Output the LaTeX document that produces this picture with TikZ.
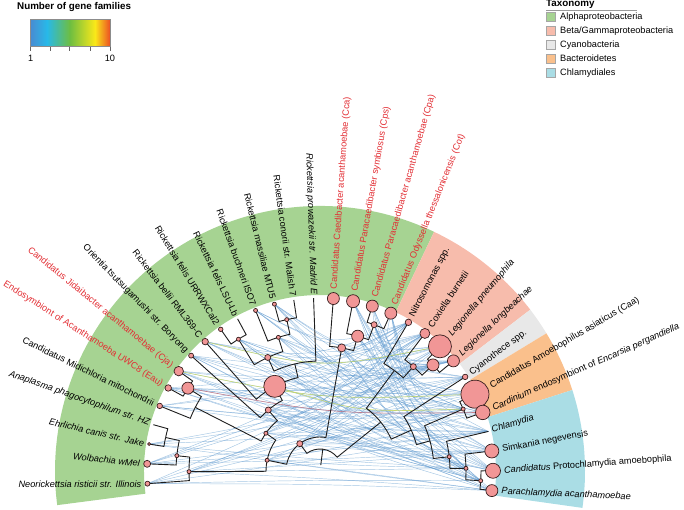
\documentclass[tikz,border=0pt]{standalone}
\usepackage{fontspec}
\setmainfont{Liberation Sans}
\usetikzlibrary{calc}
\definecolor{cAlpha}{RGB}{166,211,146}
\definecolor{cBeta}{RGB}{247,188,172}
\definecolor{cCyan}{RGB}{232,232,232}
\definecolor{cBact}{RGB}{250,192,140}
\definecolor{cChla}{RGB}{170,221,229}
\definecolor{redtxt}{RGB}{226,46,52}
\definecolor{nodeF}{RGB}{241,150,150}
\definecolor{nodeD}{RGB}{55,30,30}
\definecolor{hgtblue}{RGB}{90,150,205}
\definecolor{hgtyel}{RGB}{205,220,90}
\definecolor{hgtred}{RGB}{205,110,120}
\definecolor{treeC}{RGB}{30,30,30}
\definecolor{gradA}{RGB}{72,140,210}
\definecolor{gradB}{RGB}{40,185,232}
\definecolor{gradC}{RGB}{110,190,65}
\definecolor{gradD}{RGB}{250,232,25}
\definecolor{gradE}{RGB}{236,80,35}

\newcommand\tn[3]{%
  \expandafter\xdef\csname TA#1\endcsname{#2}%
  \expandafter\xdef\csname TR#1\endcsname{#3}%
  \coordinate (#1) at (#2:#3);}
\newcommand\tb[2]{%
  \draw[branch] (#1) -- (\csname TA#1\endcsname:\csname TR#2\endcsname)
    arc[start angle=\csname TA#1\endcsname, end angle=\csname TA#2\endcsname, radius=\csname TR#2\endcsname];}
\newcommand\leafnode[5]{%
  \pgfmathsetmacro\la{184.2-6.576*#2}%
  \tn{#1}{\la}{173}%
  \pgfmathsetmacro\lr{175.5+#3}%
  \pgfmathsetmacro\off{4*min(1,abs(\la-90)/40)}%
  \ifdim\la pt>90pt
    \pgfmathsetmacro\lrot{\la-180-\off}%
    \node[lab,text=#5,anchor=east,rotate=\lrot] (L#1) at (\la:\lr) {#4};
  \else
    \pgfmathsetmacro\lrot{\la+\off}%
    \node[lab,text=#5,anchor=west,rotate=\lrot] (L#1) at (\la:\lr) {#4};
  \fi}
\newcommand\band[3]{\fill[#1] (#2:176) arc[start angle=#2,end angle=#3,radius=176] -- (#3:265) arc[start angle=#3,end angle=#2,radius=265] -- cycle;}
\newcommand\cn[2]{\node[nc,minimum size=#2] (c#1) at (#1) {};}

\begin{document}
\begin{tikzpicture}[x=1pt,y=1pt,
  lab/.style={font=\fontsize{9.2}{11}\selectfont,inner sep=1pt},
  branch/.style={draw=treeC,line width=0.9pt},
  nc/.style={circle,draw=nodeD,fill=nodeF,line width=0.7pt,inner sep=0pt},
  hgt/.style={draw=hgtblue,line width=0.45pt,opacity=0.55},
  legtxt/.style={font=\fontsize{9.2}{11}\selectfont,anchor=west,inner sep=0pt},
  swatch/.style={draw=black!35,line width=0.5pt,minimum size=9pt,inner sep=0pt}]
\useasboundingbox (-320,-38) rectangle (364,471);

% taxonomy bands
\band{cAlpha}{187.4}{64.5}
\band{cBeta}{64.5}{37.5}
\band{cCyan}{37.5}{31.3}
\band{cBact}{31.3}{17.8}
\band{cChla}{17.8}{-8}

% leaves and labels
\leafnode{Neo}{0}{2.5}{\textit{Neorickettsia risticii str. Illinois}}{black}
\leafnode{Wol}{1}{3.5}{\textit{Wolbachia wMel}}{black}
\leafnode{Ehr}{2}{1.5}{\textit{Ehrlichia canis str. Jake}}{black}
\leafnode{Ana}{3}{0}{\textit{Anaplasma phagocytophilum str. HZ}}{black}
\leafnode{Mid}{4}{2.8}{Candidatus Midichloria mitochondrii}{black}
\leafnode{Eau}{5}{3.3}{Endosymbiont of Acanthamoeba UWC8 (Eau)}{redtxt}
\leafnode{Cja}{6}{4.8}{Candidatus Jidaibacter acanthamoebae (Cja)}{redtxt}
\leafnode{Ori}{7}{2.5}{Orientia tsutsugamushi str. Boryong}{black}
\leafnode{Rbe}{8}{3.3}{Rickettsia bellii RML369-C}{black}
\leafnode{Rfu}{9}{2.3}{Rickettsia felis URRWXCal2}{black}
\leafnode{Rfl}{10}{0}{Rickettsia felis LSU-Lb}{black}
\leafnode{Rbu}{11}{2}{Rickettsia buchneri ISO7}{black}
\leafnode{Rma}{12}{2}{Rickettsia massiliae MTU5}{black}
\leafnode{Rco}{13}{0}{Rickettsia conorii str. Malish 7}{black}
\leafnode{Rpr}{14}{0}{\textit{Rickettsia prowazekii str. Madrid E}}{black}
\leafnode{Cca}{15}{6}{Candidatus Caedibacter acanthamoebae (Cca)}{redtxt}
\leafnode{Cps}{16}{6.5}{Candidatus Paracaedibacter symbiosus (Cps)}{redtxt}
\leafnode{Cpa}{17}{6}{Candidatus Paracaedibacter acanthamoebae (Cpa)}{redtxt}
\leafnode{Cot}{18}{6}{Candidatus Odyssella thessalonicensis (Cot)}{redtxt}
\leafnode{Nit}{19}{3.3}{Nitrosomonas spp.}{black}
\leafnode{Cox}{20}{5}{Coxiella burnetii}{black}
\leafnode{Lpn}{21}{11.5}{\textit{Legionella pneumophila}}{black}
\leafnode{Llo}{22}{6}{\textit{Legionella longbeachae}}{black}
\leafnode{Cya}{23}{2.8}{Cyanothece spp.}{black}
\leafnode{Caa}{24}{14}{Candidatus Amoebophilus asiaticus (Caa)}{black}
\leafnode{Car}{25}{7.3}{\textit{Cardinium} endosymbiont of \textit{Encarsia pergandiella}}{black}
\leafnode{Chl}{26}{0}{\textit{Chlamydia}}{black}
\leafnode{Sim}{27}{7}{Simkania negevensis}{black}
\leafnode{Pro}{28}{7.5}{\textit{Candidatus} Protochlamydia amoebophila}{black}
\leafnode{Par}{29}{6}{\textit{Parachlamydia acanthamoebae}}{black}

% internal nodes
\tn{A2}{167.76}{158}
\tn{A1}{173.9}{144}
\tn{A0}{180.3}{131}
\tn{M1}{147.9}{156}
\tn{M0}{152.97}{140}
\tn{RF}{121.75}{155}
\tn{RS1}{102.4}{155}
\tn{RS2}{107.3}{140}
\tn{RT}{114.7}{125}
\tn{RR}{103.24}{110}
\tn{RB}{118.1}{96}
\tn{RO}{130.3}{80}
\tn{MR}{145.1}{66}
\tn{RK}{168.5}{54}
\tn{H1}{69.7}{156}
\tn{H2}{74.4}{140}
\tn{H3}{80}{125}
\tn{AL}{126.5}{34}
\tn{L}{43.2}{155}
\tn{CL}{48.2}{140}
\tn{BG}{53.5}{125}
\tn{BA}{23.4}{156}
\tn{CH3}{-3.45}{161}
\tn{CH2}{1.06}{146}
\tn{CH1}{6.3}{130}
\tn{BC}{15.3}{114}
\tn{CY}{24.1}{100}
\tn{NA}{38.8}{78}
\tn{Root}{82.7}{22}
\tn{RootB}{82.7}{6}

% gene-transfer links
\foreach \s [count=\i] in {Neo,Wol,Ehr,A1,A0,Mid,Eau,Cja,M1,Ori,Rbe,RB,Rfu,RF,Rbu,RS2,Rma,RT,RO,MR,RK,Cca,Cps,Cpa,Cot,H1,H2,H3,AL}{
  \foreach \t [count=\j] in {Nit,Cox,Lpn,Llo,L,CL,Cya,Caa,Car,BA,Chl,Sim,Pro,Par,CH1,CH2,CH3}{
    \pgfmathtruncatemacro\k{mod(\i*\i*3+\j*7+\i*\j*5,9)}
    \ifnum\k<3 \draw[hgt] (\s) .. controls ($(\s)!0.5!(\t)!0.2!(0,0)$) .. (\t);\fi
  }}
\draw[draw=hgtyel,line width=0.6pt,opacity=0.8] (Cja) .. controls ($(Cja)!0.5!(Caa)!0.2!(0,0)$) .. (Caa);
\draw[draw=hgtyel,line width=0.6pt,opacity=0.8] (Rbe) .. controls ($(Rbe)!0.5!(Lpn)!0.2!(0,0)$) .. (Lpn);
\draw[draw=hgtyel,line width=0.6pt,opacity=0.8] (RB) .. controls ($(RB)!0.5!(BA)!0.2!(0,0)$) .. (BA);
\draw[draw=hgtred,line width=0.6pt,opacity=0.8] (M1) .. controls ($(M1)!0.5!(Car)!0.2!(0,0)$) .. (Car);

% tree
\tb{Neo}{A0} \tb{Wol}{A1} \tb{Ehr}{A2} \tb{Ana}{A2} \tb{A2}{A1} \tb{A1}{A0} \tb{A0}{RK}
\tb{Mid}{M0} \tb{Eau}{M1} \tb{Cja}{M1} \tb{M1}{M0} \tb{M0}{MR}
\tb{Ori}{RO} \tb{Rbe}{RB} \tb{Rfu}{RF} \tb{Rfl}{RF} \tb{RF}{RT}
\tb{Rbu}{RS2} \tb{Rma}{RS1} \tb{Rco}{RS1} \tb{RS1}{RS2} \tb{RS2}{RT}
\tb{RT}{RR} \tb{Rpr}{RR} \tb{RR}{RB} \tb{RB}{RO} \tb{RO}{MR} \tb{MR}{RK} \tb{RK}{AL}
\tb{Cca}{H3} \tb{Cps}{H2} \tb{Cpa}{H1} \tb{Cot}{H1} \tb{H1}{H2} \tb{H2}{H3} \tb{H3}{AL}
\tb{AL}{Root}
\tb{Nit}{BG} \tb{Cox}{CL} \tb{Lpn}{L} \tb{Llo}{L} \tb{L}{CL} \tb{CL}{BG} \tb{BG}{NA}
\tb{Cya}{CY} \tb{Caa}{BA} \tb{Car}{BA} \tb{BA}{BC}
\tb{Chl}{CH1} \tb{Sim}{CH2} \tb{Pro}{CH3} \tb{Par}{CH3} \tb{CH3}{CH2} \tb{CH2}{CH1} \tb{CH1}{BC}
\tb{BC}{CY} \tb{CY}{NA} \tb{NA}{Root}
\draw[branch] (Root) -- (RootB);

% node circles
\cn{Neo}{5} \cn{Wol}{7} \cn{Ehr}{3} \cn{Mid}{5.5} \cn{Eau}{6.5} \cn{Cja}{9.5}
\cn{Ori}{5} \cn{Rbe}{6.5} \cn{Rfu}{4.5} \cn{Rbu}{4} \cn{Rma}{4}
\cn{Cca}{12} \cn{Cps}{13} \cn{Cpa}{12} \cn{Cot}{12}
\cn{Nit}{6.5} \cn{Cox}{10} \cn{Lpn}{23} \cn{Llo}{12} \cn{Cya}{5.5}
\cn{Caa}{28} \cn{Car}{14.5} \cn{Sim}{14} \cn{Pro}{15} \cn{Par}{12}
\cn{A0}{4} \cn{A1}{4} \cn{M1}{12} \cn{RB}{22} \cn{RO}{6} \cn{MR}{4} \cn{RK}{4}
\cn{AL}{6} \cn{RT}{6} \cn{RF}{4} \cn{RS2}{4} \cn{RS1}{4}
\cn{H3}{8} \cn{H2}{12} \cn{H1}{6} \cn{CL}{6} \cn{L}{12} \cn{BA}{4}
\cn{CH1}{4} \cn{CH2}{4} \cn{CH3}{4}

% legend: gene families
\node[font=\bfseries\fontsize{9.8}{11}\selectfont,anchor=west,inner sep=0pt] (legT) at (-303,463.7) {Number of gene families};
\shade[left color=gradA,right color=gradB] (-289.3,424.3) rectangle (-273,451.7);
\shade[left color=gradB,right color=gradC] (-273,424.3) rectangle (-250,451.7);
\shade[left color=gradC,right color=gradD] (-250,424.3) rectangle (-225,451.7);
\shade[left color=gradD,right color=gradE] (-225,424.3) rectangle (-210,451.7);
\draw[black!45,line width=0.5pt] (-289.3,424.3) rectangle (-210,451.7);
\foreach \tx in {-289.3,-270,-250.7,-230,-210}{\draw[black!60,line width=0.6pt] (\tx,424.3) -- (\tx,420.3);}
\node[legtxt,anchor=center] (leg1) at (-289.3,412.5) {1};
\node[legtxt,anchor=center] (leg10) at (-210,412.5) {10};

% legend: taxonomy
\node[font=\bfseries\fontsize{9.8}{11}\selectfont,anchor=west,inner sep=0pt] (taxT) at (226,466.5) {Taxonomy};
\draw[black!40,line width=0.5pt] (226,460.5) -- (317,460.5);
\node[swatch,fill=cAlpha] (s1) at (230.5,454.3) {};
\node[legtxt] (t1) at (240,454.3) {Alphaproteobacteria};
\node[swatch,fill=cBeta] (s2) at (230.5,440.3) {};
\node[legtxt] (t2) at (240,440.3) {Beta/Gammaproteobacteria};
\node[swatch,fill=cCyan] (s3) at (230.5,426.3) {};
\node[legtxt] (t3) at (240,426.3) {Cyanobacteria};
\node[swatch,fill=cBact] (s4) at (230.5,412.3) {};
\node[legtxt] (t4) at (240,412.3) {Bacteroidetes};
\node[swatch,fill=cChla] (s5) at (230.5,398.3) {};
\node[legtxt] (t5) at (240,398.3) {Chlamydiales};
\end{tikzpicture}
\end{document}
